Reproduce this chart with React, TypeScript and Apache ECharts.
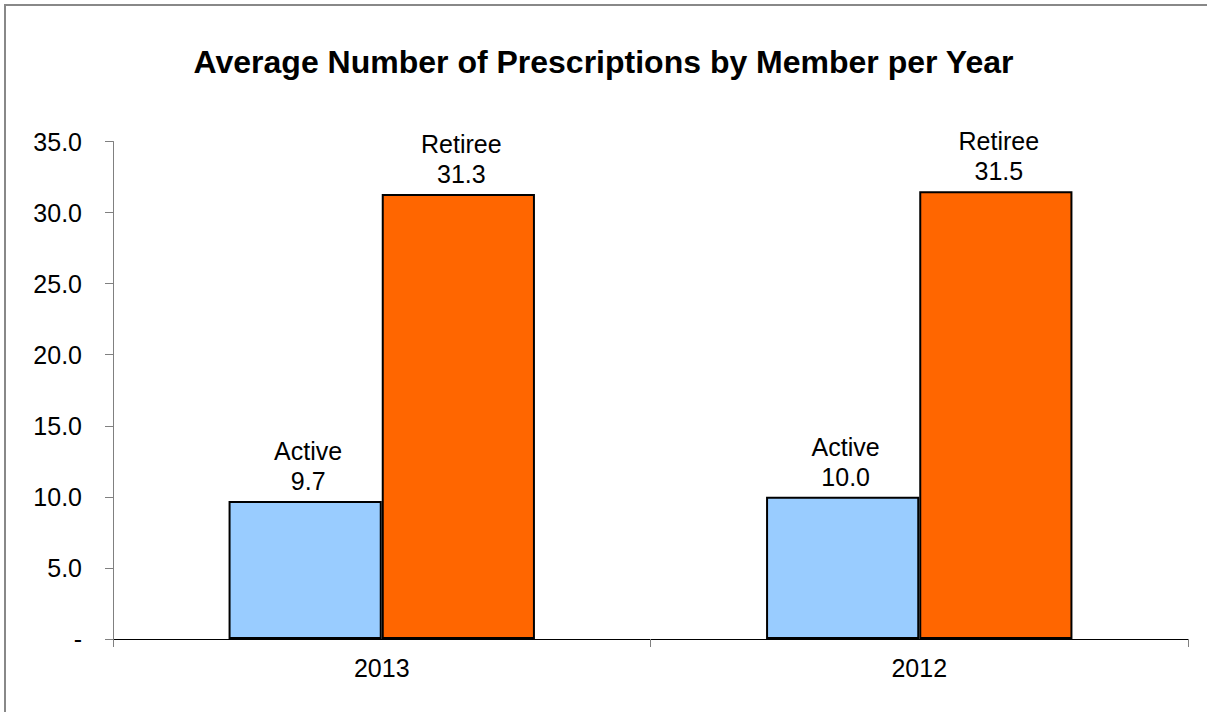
import React, { useEffect, useRef } from "react";
import * as echarts from "echarts";

const categories = ["2013", "2012"];
const activeValues = [9.7, 10.0];
const retireeValues = [31.3, 31.5];
const seriesNames = ["Active", "Retiree"];
const title = "Average Number of Prescriptions by Member per Year";

export default function App() {
  const ref = useRef<HTMLDivElement>(null);
  useEffect(() => {
    const chart = echarts.init(ref.current!, null, { renderer: "svg" });
    const font = "'Liberation Sans', Arial, sans-serif";
    const label = (name: string) => ({
      show: true,
      position: "top" as const,
      distance: 5,
      offset: [3, 0],
      color: "#000",
      fontFamily: font,
      fontSize: 25,
      lineHeight: 30,
      formatter: (p: any) => `${name}\n${Number(p.value).toFixed(1)}`,
    });
    chart.setOption({
      animation: false,
      backgroundColor: "#fff",
      title: {
        text: title,
        left: "center",
        top: 41,
        textStyle: { fontFamily: font, fontSize: 32, fontWeight: "bold", color: "#000" },
      },
      graphic: [
        {
          type: "rect",
          shape: { x: 5, y: 5, width: 1220, height: 730 },
          style: { fill: "none", stroke: "#888", lineWidth: 2 },
          silent: true,
        },
      ],
      grid: { left: 113, right: 19, top: 141.5, bottom: 73 },
      xAxis: {
        type: "category",
        data: categories,
        axisLine: { lineStyle: { color: "#000", width: 1 } },
        axisTick: { show: true, length: 8, lineStyle: { color: "#808080" } },
        axisLabel: { color: "#000", fontFamily: font, fontSize: 25, margin: 16 },
      },
      yAxis: {
        type: "value",
        min: 0,
        max: 35,
        interval: 5,
        axisLine: { show: true, lineStyle: { color: "#808080" } },
        axisTick: { show: true, length: 8, lineStyle: { color: "#808080" } },
        splitLine: { show: false },
        axisLabel: {
          color: "#000",
          fontFamily: font,
          fontSize: 25,
          margin: 31,
          formatter: (v: number) => (v === 0 ? "-" : v.toFixed(1)),
        },
      },
      series: [
        {
          name: seriesNames[0],
          type: "bar",
          data: activeValues,
          barGap: "0%",
          barCategoryGap: "43%",
          itemStyle: { color: "#99CCFF", borderColor: "#000", borderWidth: 2 },
          label: label(seriesNames[0]),
        },
        {
          name: seriesNames[1],
          type: "bar",
          data: retireeValues,
          barGap: "0%",
          barCategoryGap: "43%",
          itemStyle: { color: "#FF6600", borderColor: "#000", borderWidth: 2 },
          label: label(seriesNames[1]),
        },
      ],
    });
    return () => chart.dispose();
  }, []);
  return <div ref={ref} style={{ width: 1207, height: 712, position: "absolute", left: 0, top: 0 }} />;
}
